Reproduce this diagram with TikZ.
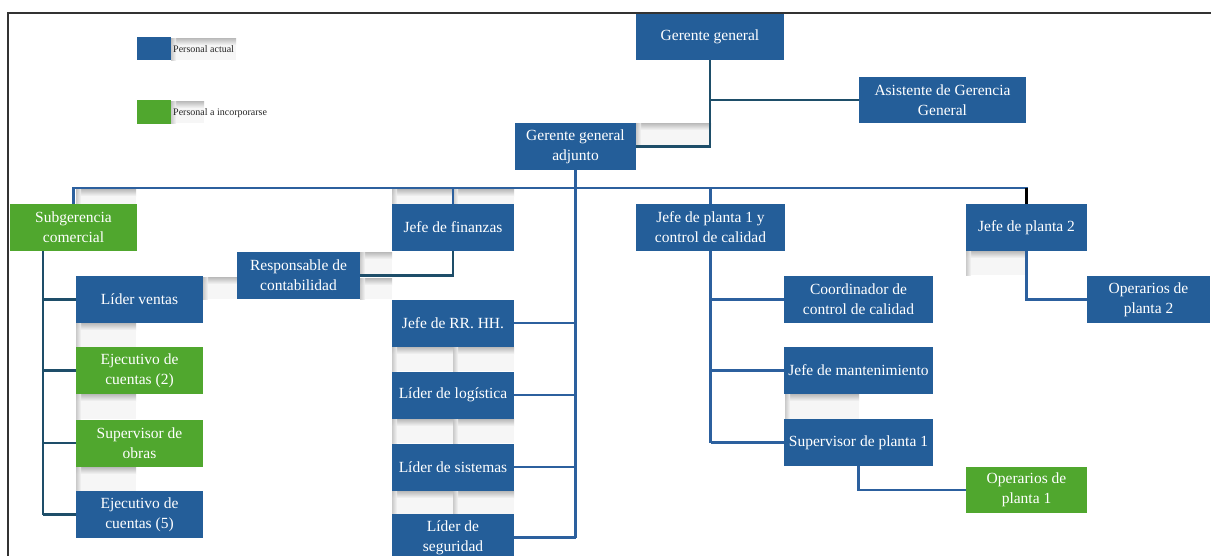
\documentclass[tikz,border=0pt]{standalone}
\usepackage{fontspec}
\setmainfont{Liberation Serif}
\usetikzlibrary{calc}
\definecolor{boxblue}{RGB}{36,94,153}
\definecolor{boxgreen}{RGB}{80,167,46}
\definecolor{lineblue}{RGB}{44,96,158}
\definecolor{linedark}{RGB}{30,78,105}
\newcommand\shbox[4]{%
  \fill[gray!7] (#1,#2) rectangle (#3,#4);
  \shade[top color=gray!55, bottom color=gray!7] (#1,#2) rectangle (#3,#2+7);
  \shade[left color=gray!50, right color=gray!7, fill opacity=0.8] (#1,#2) rectangle (#1+5,#4);
}
\begin{document}
\begin{tikzpicture}[x=1pt,y=-1pt,
 box/.style={rectangle, fill=boxblue, text=white, align=center, inner sep=0pt,
   font=\fontsize{15.5}{20}\selectfont, minimum height=47pt},
 gbox/.style={box, fill=boxgreen},
 conn/.style={draw=lineblue, line width=2.6pt},
 dconn/.style={draw=linedark, line width=2.6pt},
 legtext/.style={anchor=west, inner sep=0pt, text=black!85, font=\fontsize{10}{11}\selectfont},
]
\useasboundingbox (0,0) rectangle (1211,555);
\clip (0,0) rectangle (1211,555);
\fill[white] (0,0) rectangle (1211,555);

% frame
\draw[black!80, line width=1.2pt] (8,560) -- (8,13) -- (1215,13);

% shadow boxes
\shbox{171}{38}{236}{60}
\shbox{171}{101}{204}{123}
\shbox{636}{123}{711}{147}
\shbox{76}{189}{136}{204}
\shbox{392}{189}{453}{204}
\shbox{453}{189}{514}{204}
\shbox{360}{252}{392}{276}
\shbox{360}{278}{392}{299}
\shbox{203}{277}{237}{299}
\shbox{76}{323}{136}{347}
\shbox{76}{394}{136}{419}
\shbox{76}{467}{136}{491}
\shbox{392}{347}{453}{371}
\shbox{453}{347}{514}{371}
\shbox{392}{419}{453}{443}
\shbox{453}{419}{514}{443}
\shbox{392}{491}{453}{514}
\shbox{453}{491}{514}{514}
\shbox{966}{251}{1027}{275}
\shbox{785}{394}{859}{419}

% legend
\node[fill=boxblue, minimum width=34pt, minimum height=23pt, inner sep=0pt] (lega) at (154,48.5) {};
\node[legtext] (legat) at (173,49) {Personal actual};
\node[fill=boxgreen, minimum width=34pt, minimum height=24pt, inner sep=0pt] (legb) at (154,112) {};
\node[legtext] (legbt) at (173,113) {Personal a incorporarse};

% nodes
\node[box, minimum width=148pt, minimum height=46pt] (gg) at (710,37) {Gerente general};
\node[box, minimum width=167pt, minimum height=46pt] (asis) at (942.5,100) {Asistente de Gerencia\\General};
\node[box, minimum width=121pt] (gga) at (575.5,146.5) {Gerente general\\adjunto};

\node[gbox, minimum width=127pt] (sub) at (73.5,227.5) {Subgerencia\\comercial};
\node[box, minimum width=122pt] (fin) at (453,227.5) {Jefe de finanzas};
\node[box, minimum width=149pt] (jp1) at (710.5,227.5) {Jefe de planta 1 y\\control de calidad};
\node[box, minimum width=121pt] (jp2) at (1026.5,227.5) {Jefe de planta 2};

\node[box, minimum width=123pt] (resp) at (298.5,275.5) {Responsable de\\contabilidad};

\node[box, minimum width=127pt] (lv) at (139.5,299.5) {Líder ventas};
\node[gbox, minimum width=127pt] (ec2) at (139.5,370.5) {Ejecutivo de\\cuentas (2)};
\node[gbox, minimum width=127pt] (sup) at (139.5,443) {Supervisor de\\obras};
\node[box, minimum width=127pt] (ec5) at (139.5,514.5) {Ejecutivo de\\cuentas (5)};

\node[box, minimum width=122pt] (rrhh) at (453,323) {Jefe de RR. HH.};
\node[box, minimum width=122pt] (log) at (453,395) {Líder de logística};
\node[box, minimum width=122pt] (sis) at (453,467) {Líder de sistemas};
\node[box, minimum width=122pt] (seg) at (453,537.5) {Líder de\\seguridad};

\node[box, minimum width=149pt] (coord) at (858.5,299.5) {Coordinador de\\control de calidad};
\node[box, minimum width=149pt] (mant) at (858.5,370.5) {Jefe de mantenimiento};
\node[box, minimum width=149pt] (supp1) at (858.5,442.5) {Supervisor de planta 1};
\node[gbox, minimum width=121pt, minimum height=46pt] (op1) at (1026.5,490) {Operarios de\\planta 1};
\node[box, minimum width=123pt] (op2) at (1148.5,299.5) {Operarios de\\planta 2};

% connectors
\coordinate (bus) at (0,188);
\coordinate (subv) at (43,251);

\draw[dconn] (gg.south) |- (gga.east);
\draw[dconn] (gg.south |- asis.west) -- (asis.west);

\draw[conn, line cap=rect] (sub.north |- bus) -- (jp2.north |- bus);
\draw[conn] (sub.north |- bus) -- (sub.north);
\draw[conn] (fin.north |- bus) -- (fin.north);
\draw[conn] (jp1.north |- bus) -- (jp1.north);
\draw[black, line width=3pt] (jp2.north |- bus) -- (jp2.north);

\draw[conn] (gga.south) -- (gga.south |- seg.east);
\foreach \n in {rrhh,log,sis,seg}{
  \draw[conn] (\n.east) -- (gga.south |- \n.east);
}
\draw[dconn] (fin.south) |- (resp.east);

\draw[dconn] (subv) -- (subv |- ec5.west);
\foreach \n in {lv,ec2,sup,ec5}{
  \draw[dconn] (subv |- \n.west) -- (\n.west);
}

\draw[conn] (jp1.south) -- (jp1.south |- supp1.west);
\foreach \n in {coord,mant,supp1}{
  \draw[conn] (jp1.south |- \n.west) -- (\n.west);
}
\draw[conn] (supp1.south) |- (op1.west);
\draw[conn] (jp2.south) |- (op2.west);
\end{tikzpicture}
\end{document}
